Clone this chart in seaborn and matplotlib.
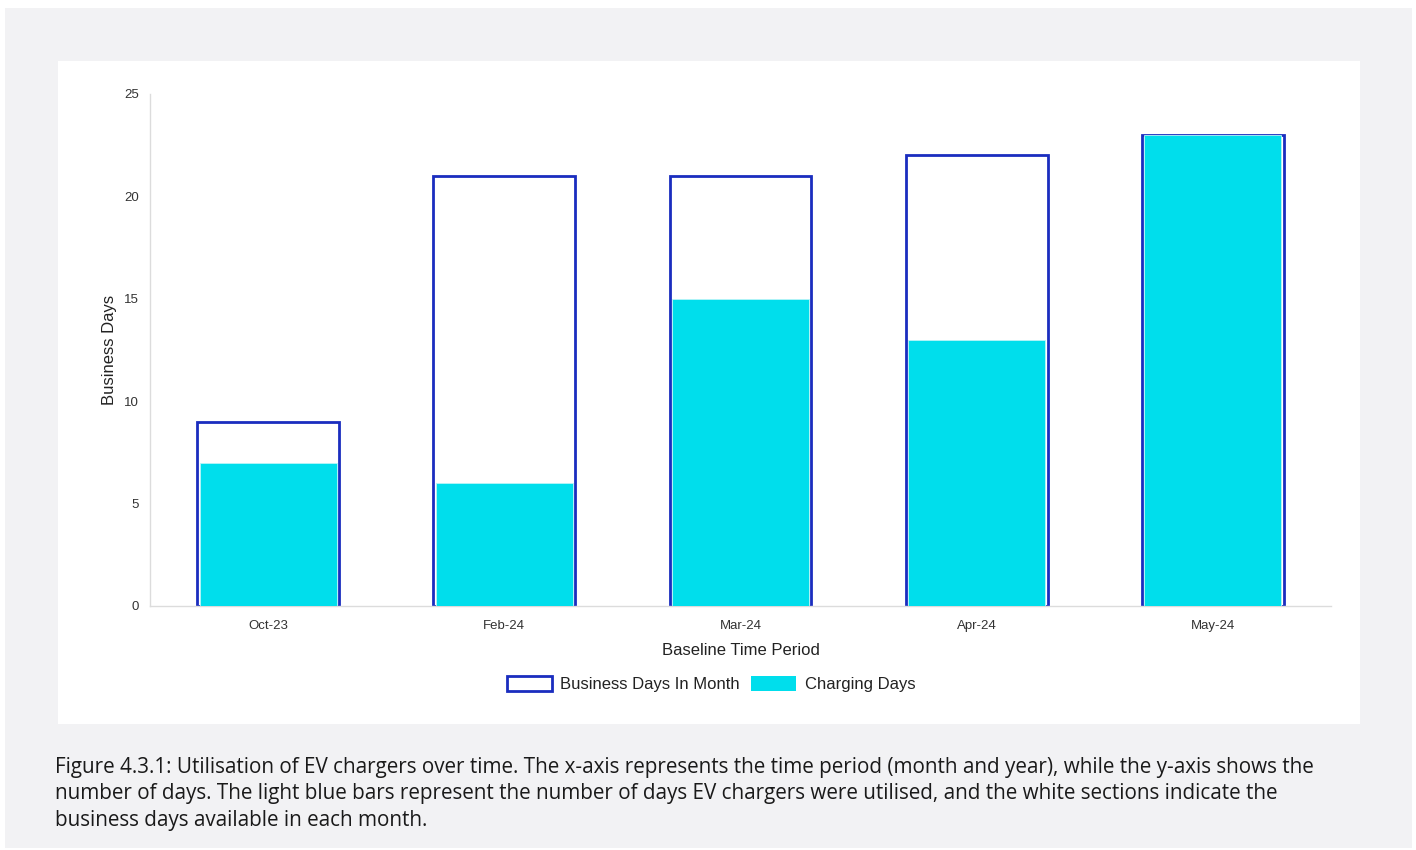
import matplotlib
matplotlib.use("Agg")
import matplotlib.pyplot as plt
from matplotlib.patches import Rectangle, Patch
import seaborn as sns
import pandas as pd

# Monthly data
months = ["Oct-23", "Feb-24", "Mar-24", "Apr-24", "May-24"]
business_days = [9, 21, 21, 22, 23]
charging_days = [7, 6, 15, 13, 23]
y_ticks = [0, 5, 10, 15, 20, 25]

caption = ("Figure 4.3.1: Utilisation of EV chargers over time. The x-axis represents the time period (month and year), while the y-axis shows the\n"
           "number of days. The light blue bars represent the number of days EV chargers were utilised, and the white sections indicate the\n"
           "business days available in each month.")

EDGE = "#1a2dbf"
CYAN = "#00deec"
AXIS_GREY = "#dcdcdc"
TEXT = "#333333"

sns.set_theme(style="white")
plt.rcParams["font.family"] = ["Liberation Sans", "DejaVu Sans"]

df = pd.DataFrame({"month": months, "business": business_days, "charging": charging_days})

W, H = 1416, 850
fig = plt.figure(figsize=(W / 100, H / 100), dpi=100)
fig.patch.set_facecolor("white")

# Page panels: grey card with a white chart panel inside
fig.patches.append(Rectangle((5 / W, 1 - 848 / H), 1407 / W, 840 / H,
                             transform=fig.transFigure, facecolor="#f2f2f4",
                             edgecolor="none", zorder=-3))
fig.patches.append(Rectangle((58 / W, 1 - 724 / H), 1302 / W, 663 / H,
                             transform=fig.transFigure, facecolor="white",
                             edgecolor="none", zorder=-2))

ax = fig.add_axes([150 / W, 1 - 606 / H, 1181 / W, 512 / H])
ax.set_facecolor("none")

sns.barplot(data=df, x="month", y="business", ax=ax, width=0.6,
            color="white", edgecolor=EDGE, linewidth=2, saturation=1, zorder=2)
sns.barplot(data=df, x="month", y="charging", ax=ax, width=0.58,
            color=CYAN, edgecolor="#b8f4f8", linewidth=0.6, saturation=1, zorder=3)

ax.set_ylim(0, 25)
ax.set_xlim(-0.5, len(months) - 0.5)
ax.set_yticks(y_ticks)
ax.tick_params(axis="both", length=0, labelsize=9.5, colors=TEXT)
ax.tick_params(axis="x", pad=10)
ax.tick_params(axis="y", pad=8)
ax.set_xlabel("Baseline Time Period", fontsize=12, color="#222222", labelpad=8)
ax.set_ylabel("Business Days", fontsize=12, color="#222222", labelpad=5)

for side in ["top", "right"]:
    ax.spines[side].set_visible(False)
for side in ["left", "bottom"]:
    ax.spines[side].set_color(AXIS_GREY)
    ax.spines[side].set_linewidth(1)

handles = [Patch(facecolor="white", edgecolor=EDGE, linewidth=2),
           Patch(facecolor=CYAN, edgecolor="none")]
fig.legend(handles, ["Business Days In Month", "Charging Days"],
           loc="center", bbox_to_anchor=(711 / W, 1 - 684 / H), ncol=2,
           frameon=False, fontsize=12, handlelength=2.7, handleheight=1.0,
           handletextpad=0.5, columnspacing=0.7, labelcolor="#222222")

fig.text(55 / W, 1 - 757 / H, caption, ha="left", va="top",
         fontsize=14.85, family=["Open Sans", "DejaVu Sans"], color="#1a1a1a",
         linespacing=1.33)

fig.savefig("out.png", dpi=100)
